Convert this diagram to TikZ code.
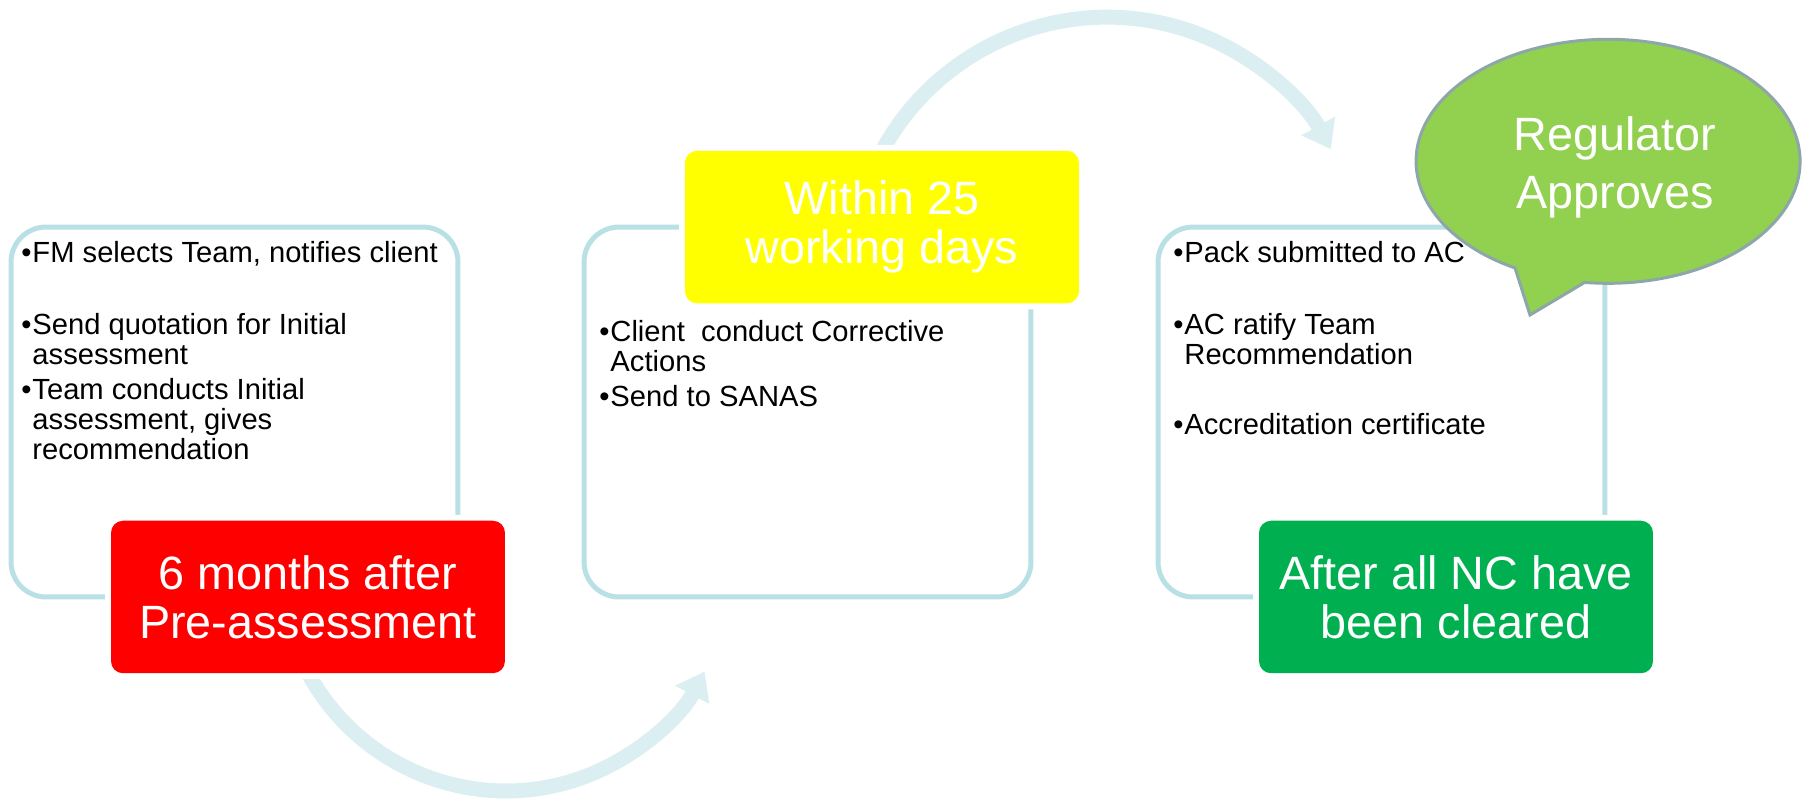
\documentclass[tikz,border=0pt]{standalone}
\usepackage{fontspec}
\setmainfont{Liberation Sans}
\usetikzlibrary{arrows.meta,positioning}
\definecolor{rimblue}{RGB}{185,224,229}
\definecolor{arcblue}{RGB}{219,238,241}
\definecolor{tagred}{RGB}{255,0,0}
\definecolor{tagyellow}{RGB}{255,255,0}
\definecolor{taggreen}{RGB}{0,176,80}
\definecolor{bubblegreen}{RGB}{146,208,80}
\definecolor{bubblerim}{RGB}{140,166,170}
\newcommand{\bul}{\makebox[6.3pt][l]{\textbullet}}
\newcommand{\ind}{\hspace*{6.3pt}}

\begin{document}
\begin{tikzpicture}[x=0.02cm,y=-0.02cm,
  stagebox/.style={draw=rimblue,line width=2.85pt,rounded corners=0.7cm,minimum width=8.94cm,minimum height=7.4cm,inner sep=0pt,outer sep=0pt},
  tagbox/.style={rounded corners=0.24cm,minimum width=7.88cm,minimum height=3.05cm,text=white,align=center,font=\fontsize{26.6pt}{28pt}\selectfont,preaction={draw=white,line width=6.8pt}},
  listtext/.style={anchor=north west,align=left,inner sep=0pt,font=\fontsize{16.6pt}{17pt}\selectfont},
  flowarrow/.style={draw=arcblue,line width=8.5pt,-{Triangle[length=15pt,width=21pt]}}]
\useasboundingbox (0,0) rectangle (1802,799);
%\draw[red] (0,0) rectangle (1802,799);
\coordinate (ArcA) at (302,661);
\coordinate (ArcB) at (875,165);
\draw[flowarrow] (ArcA) arc[start angle=155,end angle=28,radius=225];
\draw[flowarrow] (ArcB) arc[start angle=205,end angle=331,radius=256];
% stage frames
\node[stagebox] (Box1) at (234.5,412) {};
\node[stagebox] (Box2) at (807.5,412) {};
\node[stagebox] (Box3) at (1381.5,412) {};
% time tags
\node[tagbox,fill=tagred] (Tag1) at ([xshift=1.47cm]Box1.south) {6 months after\\Pre-assessment};
\node[tagbox,fill=tagyellow] (Tag2) at ([xshift=1.49cm]Box2.north) {Within 25\\working days};
\node[tagbox,fill=taggreen] (Tag3) at ([xshift=1.49cm]Box3.south) {After all NC have\\been cleared};
% bullet lists
\node[listtext] (List1) at ([xshift=0.2cm,yshift=-0.28cm]Box1.north west) {\bul FM selects Team, notifies client\\[24pt]
\bul Send quotation for Initial\\
\ind assessment\\[3pt]
\bul Team conducts Initial\\
\ind assessment, gives\\
\ind recommendation};
\node[listtext] (List2) at ([xshift=0.3cm,yshift=-1.86cm]Box2.north west) {\bul Client\ \ conduct Corrective\\
\ind Actions\\[3pt]
\bul Send to SANAS};
\node[listtext] (List3) at ([xshift=0.3cm,yshift=-0.28cm]Box3.north west) {\bul Pack submitted to AC\\[24pt]
\bul AC ratify Team\\
\ind Recommendation\\[23pt]
\bul Accreditation certificate};
% speech bubble
\draw[fill=bubblegreen,draw=bubblerim,line width=1.7pt] (1515,268) arc[start angle=119,end angle=457,x radius=192,y radius=122] -- (1530,315) -- cycle;
\node[text=white,align=center,font=\fontsize{26.6pt}{33pt}\selectfont] (Bubble) at (1615,167) {Regulator\\Approves};
\end{tikzpicture}
\end{document}
